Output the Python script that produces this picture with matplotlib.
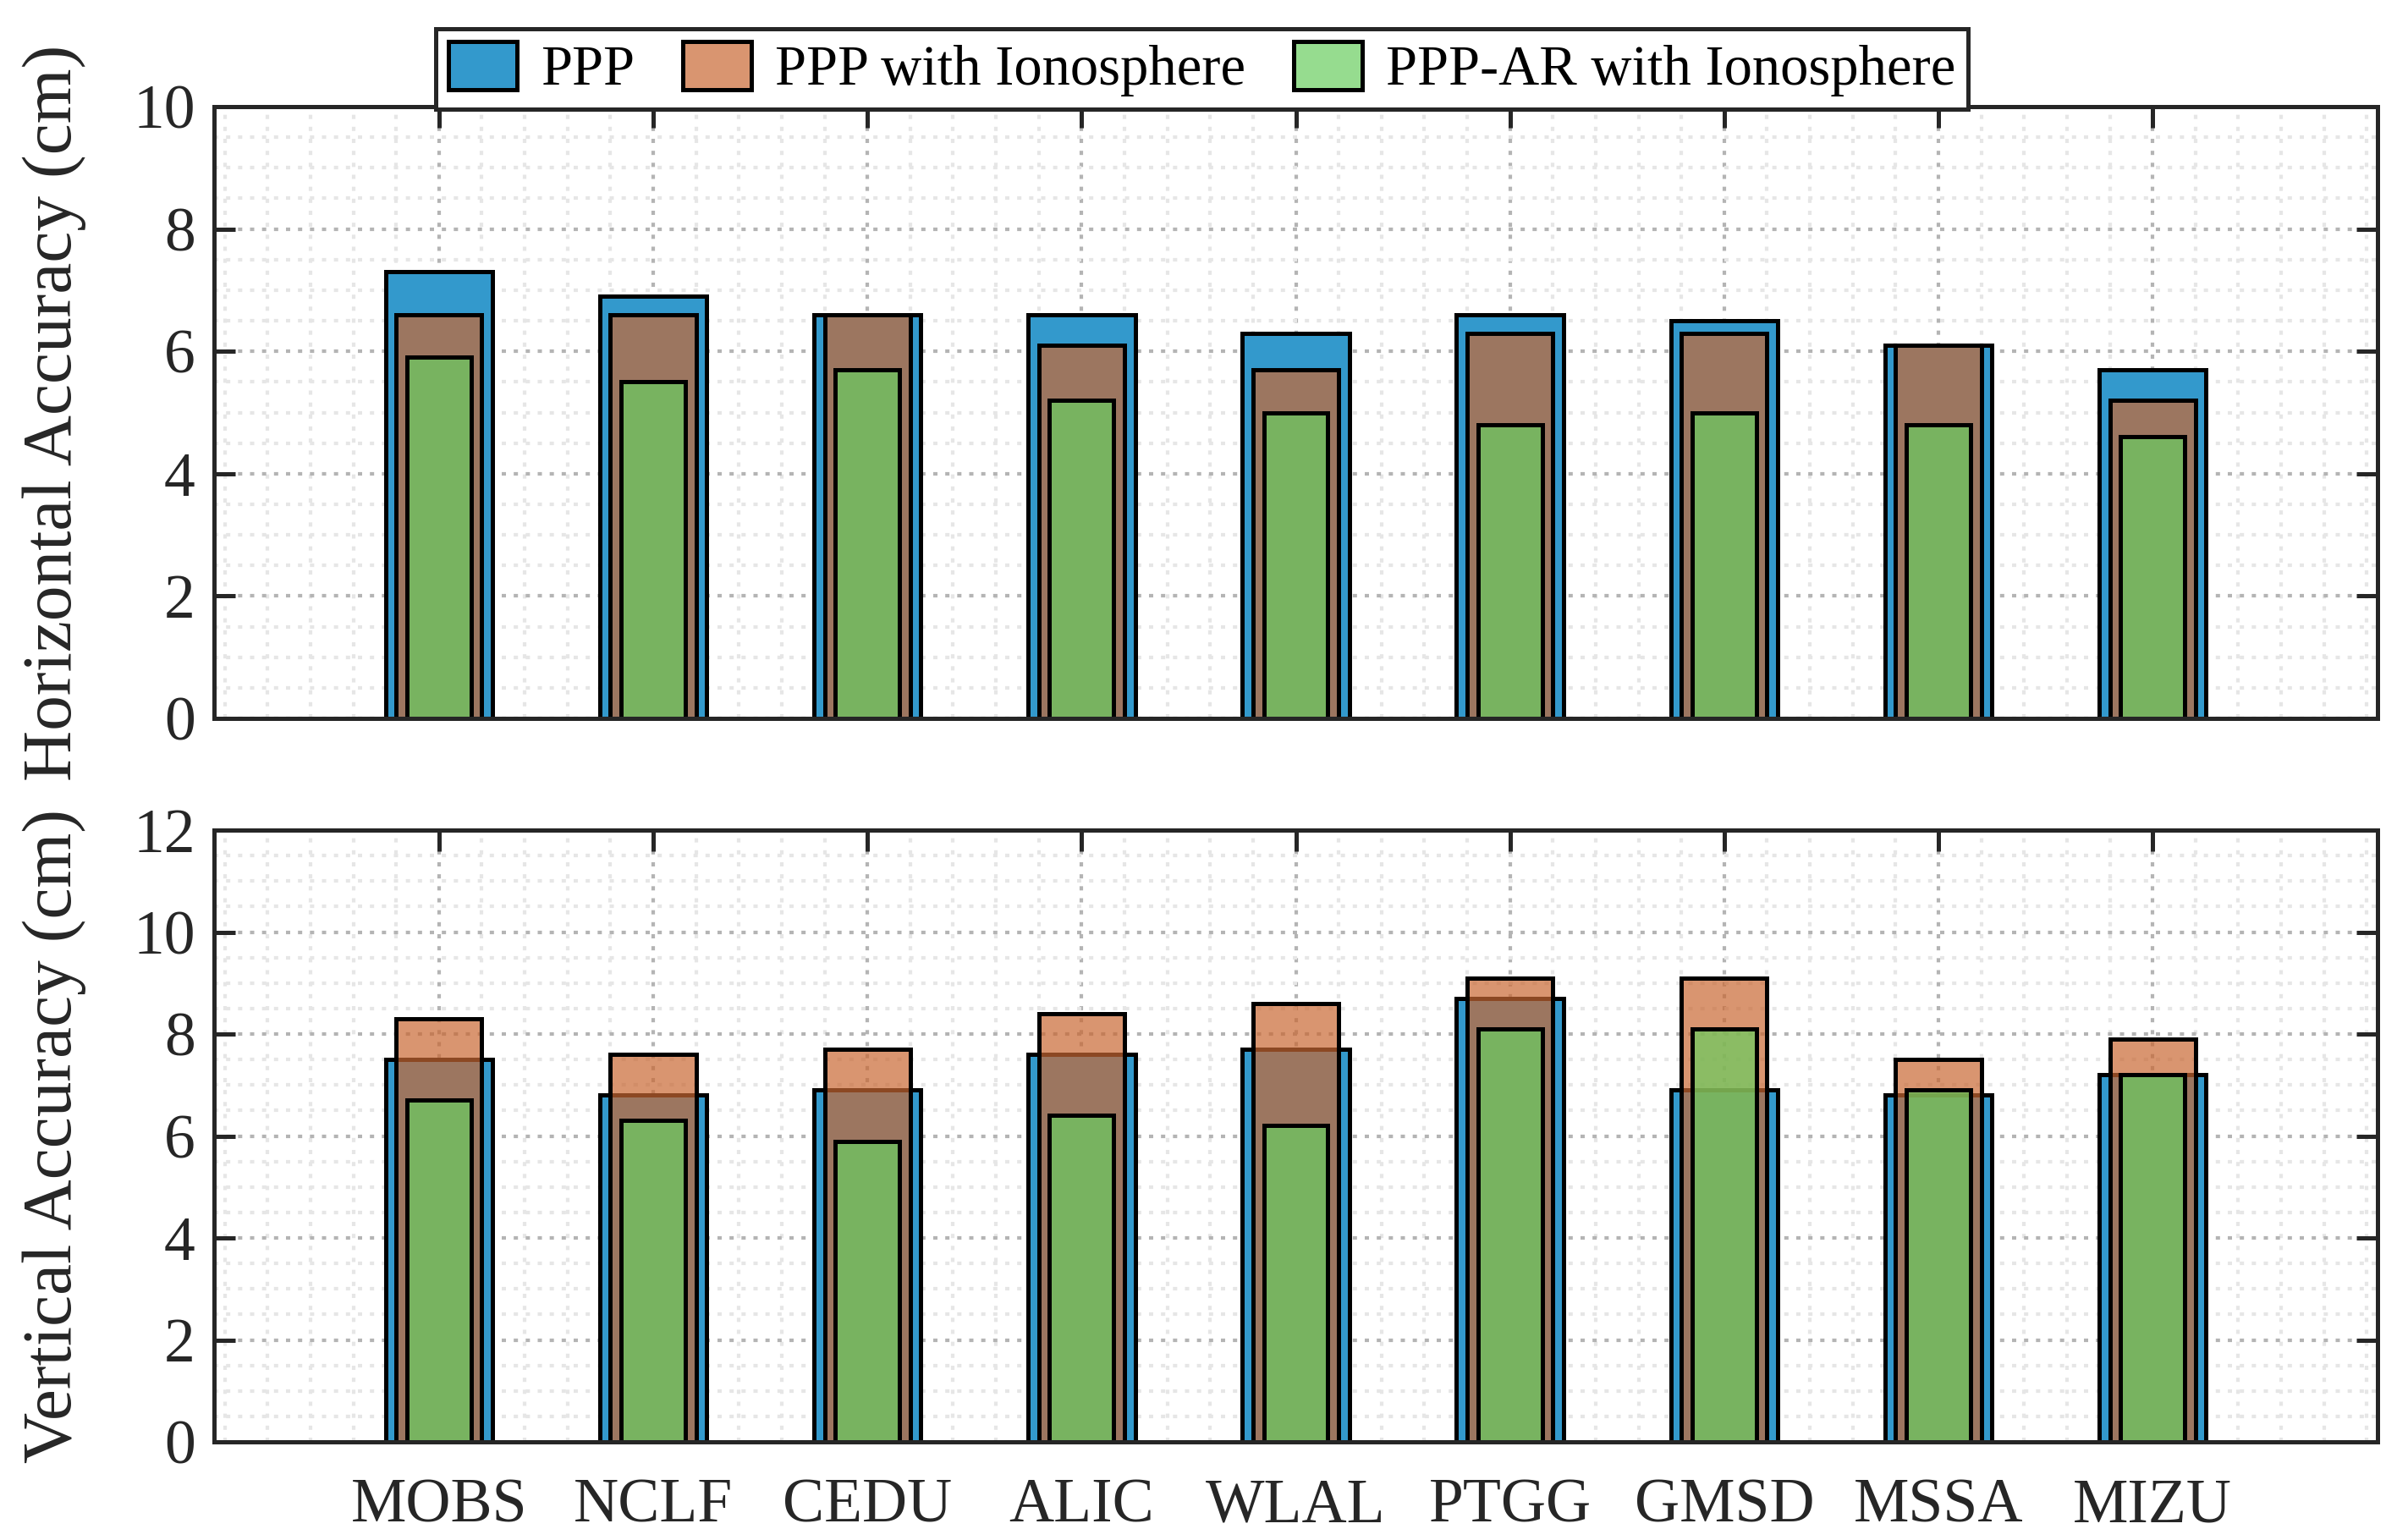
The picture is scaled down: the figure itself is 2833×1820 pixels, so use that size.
import matplotlib
matplotlib.use("Agg")
import matplotlib.pyplot as plt
from matplotlib.ticker import MultipleLocator

# stations and accuracy values (cm)
stations = ["MOBS", "NCLF", "CEDU", "ALIC", "WLAL", "PTGG", "GMSD", "MSSA", "MIZU"]
series_names = ["PPP", "PPP with Ionosphere", "PPP-AR with Ionosphere"]

horiz_ppp = [7.3, 6.9, 6.6, 6.6, 6.3, 6.6, 6.5, 6.1, 5.7]
horiz_ion = [6.6, 6.6, 6.6, 6.1, 5.7, 6.3, 6.3, 6.1, 5.2]
horiz_ar = [5.9, 5.5, 5.7, 5.2, 5.0, 4.8, 5.0, 4.8, 4.6]

vert_ppp = [7.5, 6.8, 6.9, 7.6, 7.7, 8.7, 6.9, 6.8, 7.2]
vert_ion = [8.3, 7.6, 7.7, 8.4, 8.6, 9.1, 9.1, 7.5, 7.9]
vert_ar = [6.7, 6.3, 5.9, 6.4, 6.2, 8.1, 8.1, 6.9, 7.2]

# nested bars: widest first, translucent ones on top
BAR_STYLE = [
    (0.5, (0x33 / 255, 0x99 / 255, 0xCC / 255, 1.0)),
    (0.4, (0xC9 / 255, 0x68 / 255, 0x33 / 255, 0.7)),
    (0.3, (0x6A / 255, 0xCE / 255, 0x60 / 255, 0.7)),
]
INK = "#262626"
LW = 3.6

plt.rcParams["font.family"] = ["Liberation Serif", "DejaVu Serif"]

W, H = 2833, 1820
fig = plt.figure(figsize=(W / 100, H / 100), dpi=100)


def axes_px(left, top, right, bottom):
    return fig.add_axes([left / W, 1 - bottom / H, (right - left) / W, (bottom - top) / H])


def panel(ax, series, ymax, ylabel, show_x):
    x = list(range(1, len(stations) + 1))
    bars = []
    for vals, (width, face) in zip(series, BAR_STYLE):
        bars.append(ax.bar(x, vals, width=width, color=face, edgecolor="black",
                           linewidth=LW, zorder=2))
    ax.set_xlim(-0.05, 10.05)
    ax.set_ylim(0, ymax)
    ax.set_xticks(x)
    ax.set_xticklabels(stations if show_x else [])
    ax.set_yticks(range(0, ymax + 1, 2))
    ax.xaxis.set_minor_locator(MultipleLocator(0.2))
    ax.yaxis.set_minor_locator(MultipleLocator(0.5))
    ax.set_axisbelow(True)
    ax.grid(which="major", color="#b4b4b4", linestyle=(0, (1.2, 2.2)), linewidth=3)
    ax.grid(which="minor", color="#e6e6e6", linestyle=(0, (1.2, 2.2)), linewidth=3)
    ax.tick_params(which="major", direction="in", top=True, right=True,
                   length=18, width=LW, color=INK, labelcolor=INK, labelsize=53)
    ax.tick_params(axis="y", which="major", pad=16)
    ax.tick_params(axis="x", which="major", pad=31)
    ax.tick_params(which="minor", length=0)
    for sp in ax.spines.values():
        sp.set_linewidth(LW)
        sp.set_color(INK)
    ax.set_ylabel(ylabel, fontsize=60, color=INK)
    ax.yaxis.set_label_coords(-0.059, 0.5)
    return bars


ax_h = axes_px(253, 126, 2810, 849)
ax_v = axes_px(253, 981, 2810, 1704)

handles = panel(ax_h, [horiz_ppp, horiz_ion, horiz_ar], 10,
                "Horizontal Accuracy (cm)", False)
panel(ax_v, [vert_ppp, vert_ion, vert_ar], 12, "Vertical Accuracy (cm)", True)

leg = fig.legend(handles, series_names, loc="lower left",
                 bbox_to_anchor=(515 / W, 1 - 129 / H), ncol=3, fontsize=48,
                 frameon=True, fancybox=False, framealpha=1, edgecolor=INK,
                 handlelength=1.22, handleheight=0.95, handletextpad=0.42,
                 columnspacing=0.85, borderpad=0.22, borderaxespad=0)
leg.get_frame().set_linewidth(LW)

fig.savefig("out.png", dpi=100)
